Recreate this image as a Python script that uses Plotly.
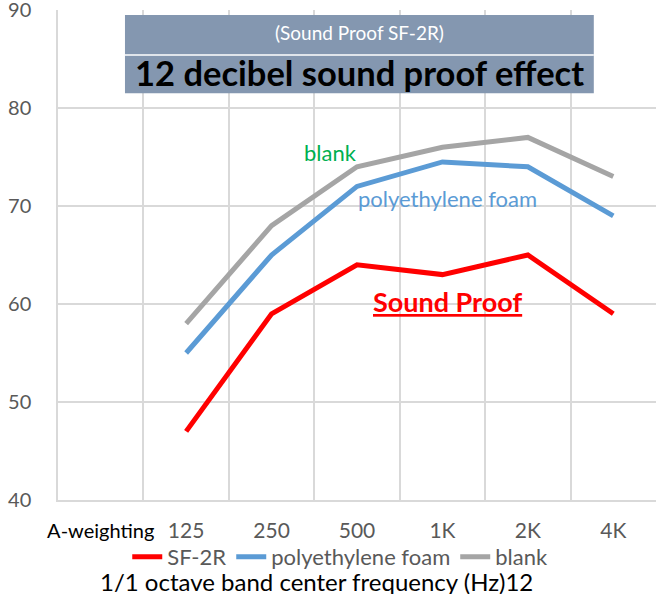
import plotly.graph_objects as go

categories = ["A-weighting", "125", "250", "500", "1K", "2K", "4K"]
data_cats = ["125", "250", "500", "1K", "2K", "4K"]
sf2r = [47, 59, 64, 63, 65, 59]
poly_foam = [55, 65, 72, 74.5, 74, 69]
blank = [58, 68, 74, 76, 77, 73]
y_ticks = [40, 50, 60, 70, 80, 90]

FONT = "Lato"
fig = go.Figure()
fig.add_trace(go.Scatter(x=data_cats, y=sf2r, mode="lines", name="SF-2R",
                         line=dict(color="#FF0000", width=5)))
fig.add_trace(go.Scatter(x=data_cats, y=poly_foam, mode="lines", name="polyethylene foam",
                         line=dict(color="#5B9BD5", width=5)))
fig.add_trace(go.Scatter(x=data_cats, y=blank, mode="lines", name="blank",
                         line=dict(color="#A5A5A5", width=5)))

ticktext = ['<span style="color:#000000;font-size:20px">A-weighting</span>'] + categories[1:]

fig.update_layout(
    width=656, height=594,
    margin=dict(l=58, r=0, t=10, b=94, autoexpand=False),
    paper_bgcolor="white", plot_bgcolor="white",
    font=dict(family=FONT, color="#595959"),
    showlegend=True,
    legend=dict(orientation="h", x=0.472, xanchor="center", y=-0.116, yanchor="middle",
                font=dict(size=22, color="#595959"), itemwidth=30, tracegroupgap=0,
                bgcolor="rgba(0,0,0,0)"),
    xaxis=dict(type="category", categoryorder="array", categoryarray=categories,
               tickvals=categories, ticktext=ticktext, tickangle=0, automargin=False,
               range=[-0.5, 6.5], tickson="boundaries", showgrid=True,
               gridcolor="#D9D9D9", gridwidth=1.5, showline=True, linecolor="#D9D9D9",
               linewidth=1.5, ticks="", ticklabelstandoff=11, ticklabeloverflow="allow",
               tickfont=dict(size=21, color="#595959"), zeroline=False),
    yaxis=dict(range=[40, 90], tickvals=y_ticks, showgrid=True, gridcolor="#D9D9D9", gridwidth=1.5,
               showline=True, linecolor="#D9D9D9", linewidth=1.5, zeroline=False,
               automargin=False, ticks="", ticklabelstandoff=21, ticklabeloverflow="allow",
               tickfont=dict(size=20, color="#595959")),
)

fig.add_shape(type="rect", xref="paper", yref="paper", x0=0.112, x1=0.896, y0=0.830, y1=0.990,
              fillcolor="#8497B0", line=dict(width=0), layer="above")
fig.add_shape(type="line", xref="paper", yref="paper", x0=0.112, x1=0.896, y0=0.908, y1=0.908,
              line=dict(color="white", width=1.5), layer="above")

annotations = [
    dict(text="(Sound Proof SF-2R)", x=0.504, y=0.955, font=dict(size=19, color="white")),
    dict(text="<b>12 decibel sound proof effect</b>", x=0.504, y=0.872, font=dict(size=34.5, color="black")),
    dict(text="blank", x=0.455, y=0.710, font=dict(size=22, color="#00B050")),
    dict(text="polyethylene foam", x=0.652, y=0.616, font=dict(size=22, color="#5B9BD5")),
    dict(text="<u><b>Sound Proof</b></u>", x=0.652, y=0.406, font=dict(size=27, color="#FF0000")),
    dict(text="1/1 octave band center frequency (Hz)12", x=0.433, y=-0.167,
         font=dict(size=24, color="black")),
]
for a in annotations:
    fig.add_annotation(xref="paper", yref="paper", showarrow=False, xanchor="center",
                       yanchor="middle", font_family=FONT, **{k: v for k, v in a.items()})

fig.write_html("out.html", config={"displayModeBar": False},
               post_script="document.body.style.margin='0';")
